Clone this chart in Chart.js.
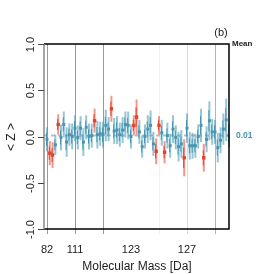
<!DOCTYPE html>
<html>
<head>
<meta charset="utf-8">
<script src="https://cdn.jsdelivr.net/npm/chart.js@4"></script>
<style>
  html, body { margin: 0; padding: 0; background: #fff; }
  #c { display: block; }
</style>
</head>
<body>
<canvas id="c" width="274" height="274"></canvas>
<script>
// values, one entry per fragment (index along the x axis)
const zMean = [
  -0.03, -0.18, -0.20, -0.09, 0.13, -0.01, 0.13, -0.06, 0.02, 0.00,
   0.09, -0.01, 0.09, -0.06, 0.10, 0.00, 0.01, 0.17, 0.02, 0.03,
   0.02, 0.12, 0.08, 0.30, 0.06, 0.07, 0.02, 0.07, 0.13, 0.12,
   0.00, 0.12, 0.21, 0.05, -0.11, 0.00, 0.08, 0.12, -0.08, -0.16,
   0.12, 0.04, -0.17, 0.01, -0.10, 0.08, -0.01, -0.11, -0.08, -0.23,
   0.09, -0.10, -0.10, -0.10, 0.00, 0.12, -0.23, -0.03, 0.17, 0.05,
   0.05, -0.12, -0.04, 0.08, 0.18, 0.01
];
const zErr = [
  0.13, 0.13, 0.14, 0.11, 0.11, 0.14, 0.14, 0.16, 0.12, 0.14,
  0.14, 0.13, 0.13, 0.15, 0.13, 0.14, 0.13, 0.13, 0.15, 0.13,
  0.14, 0.17, 0.13, 0.14, 0.14, 0.15, 0.13, 0.14, 0.14, 0.15,
  0.13, 0.11, 0.19, 0.13, 0.12, 0.13, 0.15, 0.16, 0.13, 0.14,
  0.10, 0.14, 0.12, 0.14, 0.13, 0.15, 0.13, 0.16, 0.15, 0.20,
  0.16, 0.15, 0.14, 0.13, 0.13, 0.18, 0.15, 0.14, 0.21, 0.14,
  0.13, 0.16, 0.14, 0.17, 0.23, 0.13
];
const flagged = [1, 2, 4, 17, 23, 31, 32, 39, 40, 42, 49, 56];
const tickIdx = [0, 10, 20, 30, 40, 50, 60];
const tickLabels = ['82', '111', '', '123', '', '127', ''];
const yTicks = [1.0, 0.5, 0.0, -0.5, -1.0];
const yTickLabels = ['1.0', '0.5', '0.0', '-0.5', '-1.0'];
const meanZ = 0.01;

const blue = '#4795b0';
const blueLight = 'rgba(80,160,186,0.6)';
const red = '#e2412b';
const redLight = 'rgba(232,80,60,0.6)';

const bluePts = [], redPts = [];
zMean.forEach((v, i) => {
  (flagged.includes(i) ? redPts : bluePts).push({ x: i, y: v });
});

const gridColors = ['#999', '#999', '#999', '#fff', '#f0f0f0', '#dcdcdc', '#b5b5b5'];

const deco = {
  id: 'deco',
  beforeDatasetsDraw(chart) {
    const { ctx, chartArea: a, scales: { x, y } } = chart;
    ctx.save();
    // vertical guide lines + x ticks
    tickIdx.forEach((t, k) => {
      const px = Math.round(x.getPixelForValue(t)) + 0.5;
      ctx.strokeStyle = gridColors[k];
      ctx.lineWidth = 1;
      ctx.beginPath();
      ctx.moveTo(px, a.top);
      ctx.lineTo(px, a.bottom + 5);
      ctx.stroke();
    });
    // mean line
    const my = y.getPixelForValue(meanZ);
    ctx.strokeStyle = '#bdbdbd';
    ctx.lineWidth = 2;
    ctx.setLineDash([4, 3]);
    ctx.beginPath();
    ctx.moveTo(a.left, my);
    ctx.lineTo(a.right + 4, my);
    ctx.stroke();
    ctx.setLineDash([]);
    // error bars
    zMean.forEach((v, i) => {
      const isRed = flagged.includes(i);
      const px = x.getPixelForValue(i);
      const top = y.getPixelForValue(v + zErr[i]);
      const bot = y.getPixelForValue(v - zErr[i]);
      ctx.strokeStyle = isRed ? redLight : blueLight;
      ctx.lineWidth = 2;
      ctx.beginPath();
      ctx.moveTo(px, top);
      ctx.lineTo(px, bot);
      ctx.stroke();
      const t2 = y.getPixelForValue(v + zErr[i] * 0.55);
      const b2 = y.getPixelForValue(v - zErr[i] * 0.55);
      ctx.strokeStyle = isRed ? red : blue;
      ctx.lineWidth = 1;
      ctx.beginPath();
      ctx.moveTo(px - 0.5, t2);
      ctx.lineTo(px - 0.5, b2);
      ctx.stroke();
    });
    ctx.restore();
  },
  afterDraw(chart) {
    const { ctx, chartArea: a, scales: { x, y } } = chart;
    ctx.save();
    // box
    ctx.strokeStyle = '#000';
    ctx.lineWidth = 1.5;
    ctx.beginPath();
    ctx.moveTo(a.left, a.top);
    ctx.lineTo(a.right, a.top);
    ctx.lineTo(a.right, a.bottom);
    ctx.lineTo(a.left, a.bottom);
    ctx.stroke();
    ctx.strokeStyle = '#888';
    ctx.lineWidth = 1.5;
    ctx.beginPath();
    ctx.moveTo(a.left, a.top);
    ctx.lineTo(a.left, a.bottom);
    ctx.stroke();

    ctx.fillStyle = '#222';
    ctx.font = '11px "Liberation Sans", Arial, sans-serif';
    ctx.textAlign = 'center';
    ctx.textBaseline = 'middle';
    // x tick labels
    tickIdx.forEach((t, k) => {
      if (!tickLabels[k]) return;
      ctx.fillText(tickLabels[k], x.getPixelForValue(t), a.bottom + 21);
    });
    ctx.font = '12px "Liberation Sans", Arial, sans-serif';
    ctx.fillText('Molecular Mass [Da]', 137, 267);

    // y ticks (rotated labels)
    ctx.strokeStyle = '#444';
    ctx.lineWidth = 1;
    ctx.font = '11px "Liberation Sans", Arial, sans-serif';
    yTicks.forEach((v, k) => {
      const py = Math.round(y.getPixelForValue(v)) + 0.5;
      ctx.beginPath();
      ctx.moveTo(a.left - 6, py);
      ctx.lineTo(a.left, py);
      ctx.stroke();
      ctx.save();
      ctx.translate(31, py);
      ctx.rotate(-Math.PI / 2);
      ctx.fillText(yTickLabels[k], 0, 0);
      ctx.restore();
    });
    ctx.save();
    ctx.translate(12, 137);
    ctx.rotate(-Math.PI / 2);
    ctx.font = '12px "Liberation Sans", Arial, sans-serif';
    ctx.fillText('< Z >', 0, 0);
    ctx.restore();

    // panel tag and mean annotation
    ctx.font = '11px "Liberation Sans", Arial, sans-serif';
    ctx.fillText('(b)', 221, 33);
    ctx.font = 'bold 8px "Liberation Sans", Arial, sans-serif';
    ctx.textAlign = 'left';
    ctx.fillText('Mean', 232, 44);
    ctx.fillStyle = blue;
    ctx.font = 'bold 8.5px "Liberation Sans", Arial, sans-serif';
    ctx.fillText(meanZ.toFixed(2), 236, y.getPixelForValue(meanZ) + 0.5);
    ctx.restore();
  }
};

new Chart(document.getElementById('c'), {
  type: 'scatter',
  data: {
    datasets: [
      { data: bluePts, backgroundColor: blue, borderColor: blue, pointStyle: 'rect', pointRadius: 2.1, borderWidth: 0 },
      { data: redPts, backgroundColor: red, borderColor: red, pointStyle: 'rect', pointRadius: 2.4, borderWidth: 0 }
    ]
  },
  options: {
    responsive: false,
    animation: false,
    layout: { padding: { left: 44, right: 45, top: 44, bottom: 45 } },
    scales: {
      x: { type: 'linear', min: -1.07, max: 65.0, display: false },
      y: { min: -1, max: 1, display: false }
    },
    plugins: { legend: { display: false }, tooltip: { enabled: false } }
  },
  plugins: [deco]
});
</script>
</body>
</html>
